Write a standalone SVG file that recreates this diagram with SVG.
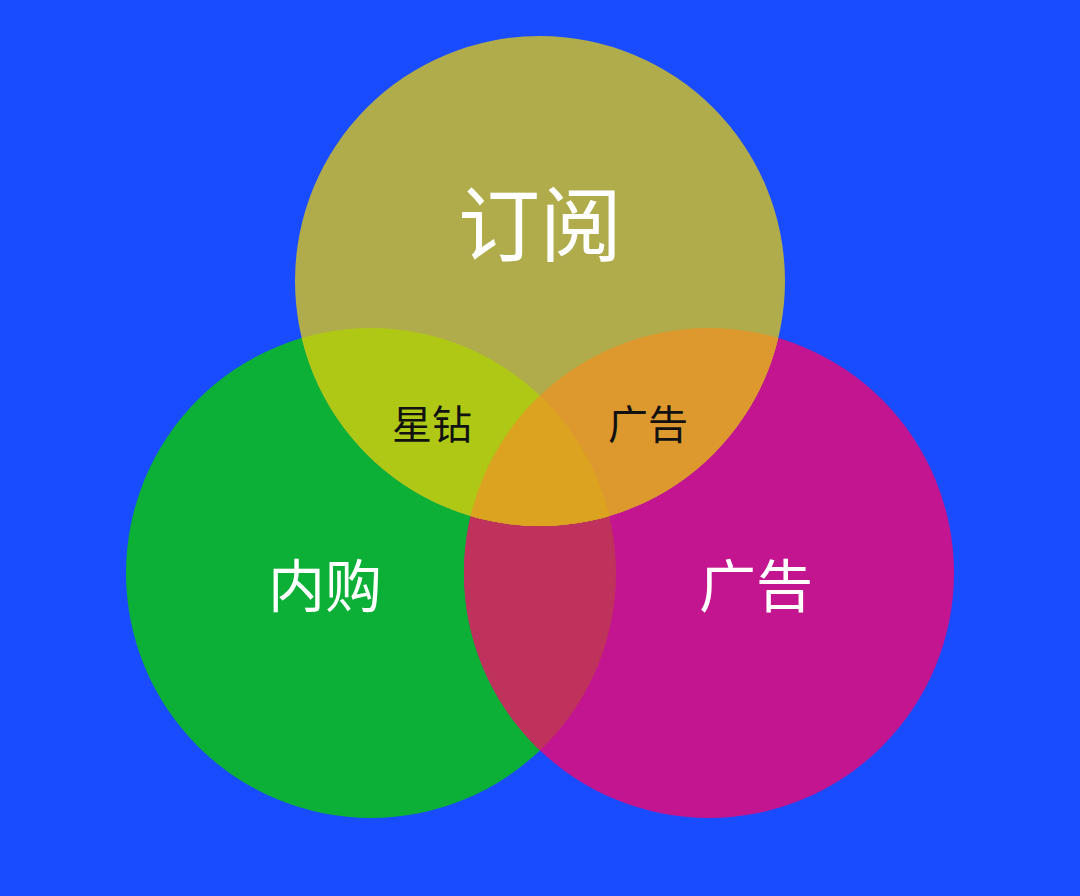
<svg xmlns="http://www.w3.org/2000/svg" width="1080" height="896" viewBox="0 0 1080 896">
  <style>
    .lbl { font-family: "Noto Sans CJK SC", "Noto Sans", sans-serif; text-anchor: middle; font-weight: 400; }
    .big { font-size: 82px; fill: #ffffff; }
    .mid { font-size: 57px; fill: #ffffff; }
    .small { font-size: 40px; fill: #111111; }
  </style>
  <defs>
    <clipPath id="clipGreen"><circle cx="371" cy="573" r="245"/></clipPath>
    <clipPath id="clipMagenta"><circle cx="709" cy="573" r="245"/></clipPath>
    <clipPath id="clipTop"><circle cx="540" cy="281" r="245"/></clipPath>
  </defs>
  <rect width="1080" height="896" fill="#1a4cff"/>

  <g id="node-neigou">
    <circle cx="371" cy="573" r="245" fill="#0cb036"/>
  </g>
  <g id="node-guanggao">
    <circle cx="709" cy="573" r="245" fill="#c41590"/>
  </g>
  <g id="overlap-neigou-guanggao" clip-path="url(#clipGreen)">
    <circle cx="709" cy="573" r="245" fill="#bf325b"/>
  </g>
  <g id="node-dingyue">
    <circle cx="540" cy="281" r="245" fill="#b0ac4b"/>
  </g>
  <g id="overlap-dingyue-neigou" clip-path="url(#clipGreen)">
    <circle cx="540" cy="281" r="245" fill="#afc816"/>
  </g>
  <g id="overlap-dingyue-guanggao" clip-path="url(#clipMagenta)">
    <circle cx="540" cy="281" r="245" fill="#dd992e"/>
  </g>
  <g id="overlap-all" clip-path="url(#clipGreen)">
    <g clip-path="url(#clipMagenta)">
      <circle cx="540" cy="281" r="245" fill="#dba31f"/>
    </g>
  </g>

  <g id="labels">
    <text class="lbl big" x="540" y="255">订阅</text>
    <text class="lbl mid" x="325" y="607">内购</text>
    <text class="lbl mid" x="756" y="607">广告</text>
    <text class="lbl small" x="432" y="439">星钻</text>
    <text class="lbl small" x="648" y="439">广告</text>
  </g>
  <g id="connectors"></g>
</svg>
